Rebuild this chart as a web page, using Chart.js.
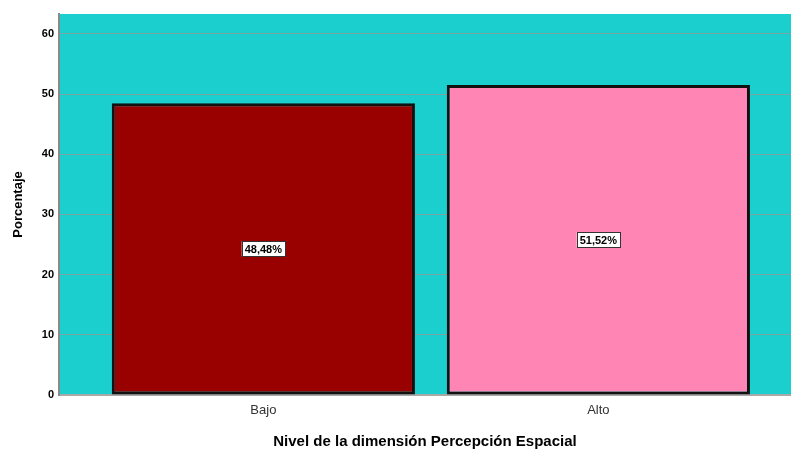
<!DOCTYPE html>
<html>
<head>
<meta charset="utf-8">
<script src="https://cdn.jsdelivr.net/npm/chart.js@4.4.1/dist/chart.umd.min.js"></script>
<style>
  html, body { margin: 0; padding: 0; background: #fff; }
  #wrap { width: 791px; height: 450px; }
</style>
</head>
<body>
<div id="wrap"><canvas id="chart"></canvas></div>
<script>
const categories = ['Bajo', 'Alto'];
const values = [48.48, 51.52];
const labels = ['48,48%', '51,52%'];
const barColors = ['#990000', '#ff85b5'];
const yTicks = [0, 10, 20, 30, 40, 50, 60];

// cyan plot background
const plotBg = {
    id: 'plotBg',
    beforeDraw(chart) {
        const { ctx, chartArea: a } = chart;
        ctx.save();
        ctx.fillStyle = '#1ccfcf';
        ctx.fillRect(a.left, a.top, a.right - a.left, a.bottom - a.top);
        ctx.restore();
    }
};

// boxed value labels in the middle of each bar
const boxLabels = {
    id: 'boxLabels',
    afterDatasetsDraw(chart) {
        const ctx = chart.ctx;
        const meta = chart.getDatasetMeta(0);
        ctx.save();
        ctx.font = 'bold 11px Arial, "Liberation Sans"';
        ctx.textAlign = 'center';
        ctx.textBaseline = 'middle';
        meta.data.forEach((bar, i) => {
            const x = bar.x;
            const y = (bar.y + bar.base) / 2;
            const w = ctx.measureText(labels[i]).width + 6;
            const h = 15;
            ctx.fillStyle = '#fff';
            ctx.fillRect(x - w / 2, y - h / 2, w, h);
            ctx.strokeStyle = '#333';
            ctx.lineWidth = 1;
            ctx.strokeRect(Math.round(x - w / 2) + 0.5, Math.round(y - h / 2) + 0.5, Math.round(w), h);
            ctx.fillStyle = '#000';
            ctx.fillText(labels[i], x, y + 1);
        });
        ctx.restore();
    }
};

new Chart(document.getElementById('chart'), {
    type: 'bar',
    data: {
        datasets: [{
            data: values.map((v, i) => ({ x: i, y: v })),
            backgroundColor: barColors,
            borderColor: '#111',
            borderWidth: 3,
            borderSkipped: false,
            barPercentage: 0.905,
            categoryPercentage: 1
        }]
    },
    options: {
        responsive: true,
        maintainAspectRatio: false,
        animation: false,
        layout: { padding: { top: 14, right: 0, left: 0, bottom: 0 } },
        plugins: { legend: { display: false }, tooltip: { enabled: false } },
        scales: {
            x: {
                type: 'linear',
                offset: false,
                min: -0.61,
                max: 1.575,
                afterBuildTicks(scale) {
                    scale.ticks = categories.map((c, i) => ({ value: i }));
                },
                afterFit(scale) { scale.height = 55; },
                ticks: {
                    callback: (v) => categories[v],
                    color: '#333',
                    font: { family: 'Arial, "Liberation Sans"', size: 13 },
                    padding: 8
                },
                grid: { display: false, drawTicks: false },
                border: { color: '#a8a8a8', width: 2 },
                title: {
                    display: true,
                    text: 'Nivel de la dimensión Percepción Espacial',
                    color: '#000',
                    font: { family: 'Arial, "Liberation Sans"', size: 15, weight: 'bold' },
                    padding: { top: 15, bottom: -1 }
                }
            },
            y: {
                min: 0,
                max: 63.3,
                afterBuildTicks(scale) {
                    scale.ticks = yTicks.map(v => ({ value: v }));
                },
                afterFit(scale) { scale.width = 59; },
                ticks: {
                    color: '#000',
                    font: { family: 'Arial, "Liberation Sans"', size: 11, weight: 'bold' },
                    padding: 5
                },
                grid: {
                    color: (c) => c.tick && c.tick.value === 0 ? 'rgba(0,0,0,0)' : '#78a4a4',
                    lineWidth: 1,
                    drawTicks: false
                },
                border: { color: '#8a8a8a', width: 2 },
                title: {
                    display: true,
                    text: 'Porcentaje',
                    color: '#000',
                    font: { family: 'Arial, "Liberation Sans"', size: 13, weight: 'bold' },
                    padding: { bottom: 4, top: 11 }
                }
            }
        }
    },
    plugins: [plotBg, boxLabels]
});
</script>
</body>
</html>
